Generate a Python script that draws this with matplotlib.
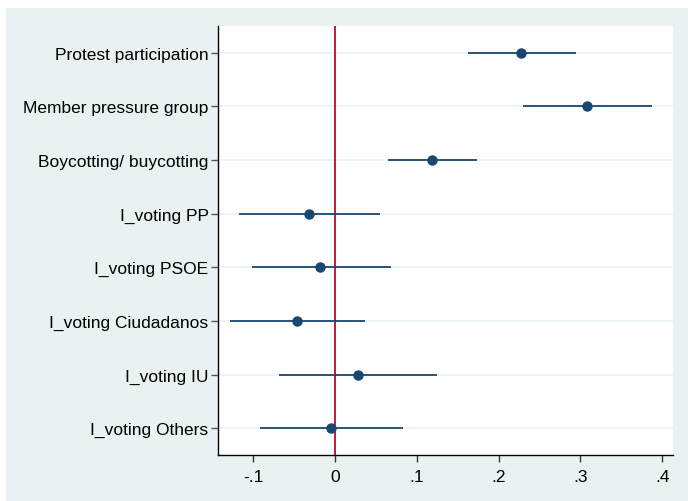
import matplotlib
matplotlib.use("Agg")
import matplotlib.pyplot as plt
from matplotlib.patches import Rectangle

# coeficientes e intervalos de confianca
labels = ["Protest participation", "Member pressure group", "Boycotting/ buycotting",
          "I_voting PP", "I_voting PSOE", "I_voting Ciudadanos", "I_voting IU", "I_voting Others"]
coef = [0.227, 0.308, 0.119, -0.032, -0.018, -0.047, 0.028, -0.005]
ci_low = [0.162, 0.230, 0.065, -0.118, -0.102, -0.129, -0.068, -0.092]
ci_high = [0.294, 0.387, 0.174, 0.055, 0.068, 0.037, 0.125, 0.083]
xticks = [-0.1, 0, 0.1, 0.2, 0.3, 0.4]
xticklabels = ["-.1", "0", ".1", ".2", ".3", ".4"]

plt.rcParams['font.family'] = ['Liberation Sans', 'DejaVu Sans']

bg = "#EAF1F3"
navy = "#1A476F"

fig = plt.figure(figsize=(6.88, 5.02), dpi=100)
fig.patch.set_facecolor("white")
fundo = Rectangle((6 / 688, 0), 1, 1 - 9 / 502, transform=fig.transFigure,
                  facecolor=bg, edgecolor="none", zorder=-10)
fig.add_artist(fundo)

ax = fig.add_axes([0.3173, 0.0916, 0.6614, 0.8546])
ax.set_zorder(1)
ax.set_facecolor("white")

n = len(labels)
ypos = list(range(n, 0, -1))  # primeiro item no topo

for y in ypos:
    ax.axhline(y, color="#EAF2F3", linewidth=1.2, zorder=1)
ax.axvline(0, color="#C10534", linewidth=1.3, zorder=2)
ax.hlines(ypos, ci_low, ci_high, color=navy, linewidth=1.3, zorder=3)
ax.plot(coef, ypos, 'o', color=navy, markersize=6.5, zorder=4)

ax.set_xlim(-0.1427, 0.4136)
ax.set_ylim(0.5, n + 0.5)
ax.set_yticks(ypos)
ax.set_yticklabels(labels, fontsize=12.5)
ax.set_xticks(xticks)
ax.set_xticklabels(xticklabels, fontsize=12.5)

for s in ["top", "right"]:
    ax.spines[s].set_visible(False)
for s in ["left", "bottom"]:
    ax.spines[s].set_color("black")
    ax.spines[s].set_linewidth(1.0)
ax.tick_params(axis="y", length=5, width=1, color="#555555", pad=2)
ax.tick_params(axis="x", length=5, width=1, color="#333333", pad=5)

fig.savefig("out.png", dpi=100, facecolor=fig.get_facecolor())
